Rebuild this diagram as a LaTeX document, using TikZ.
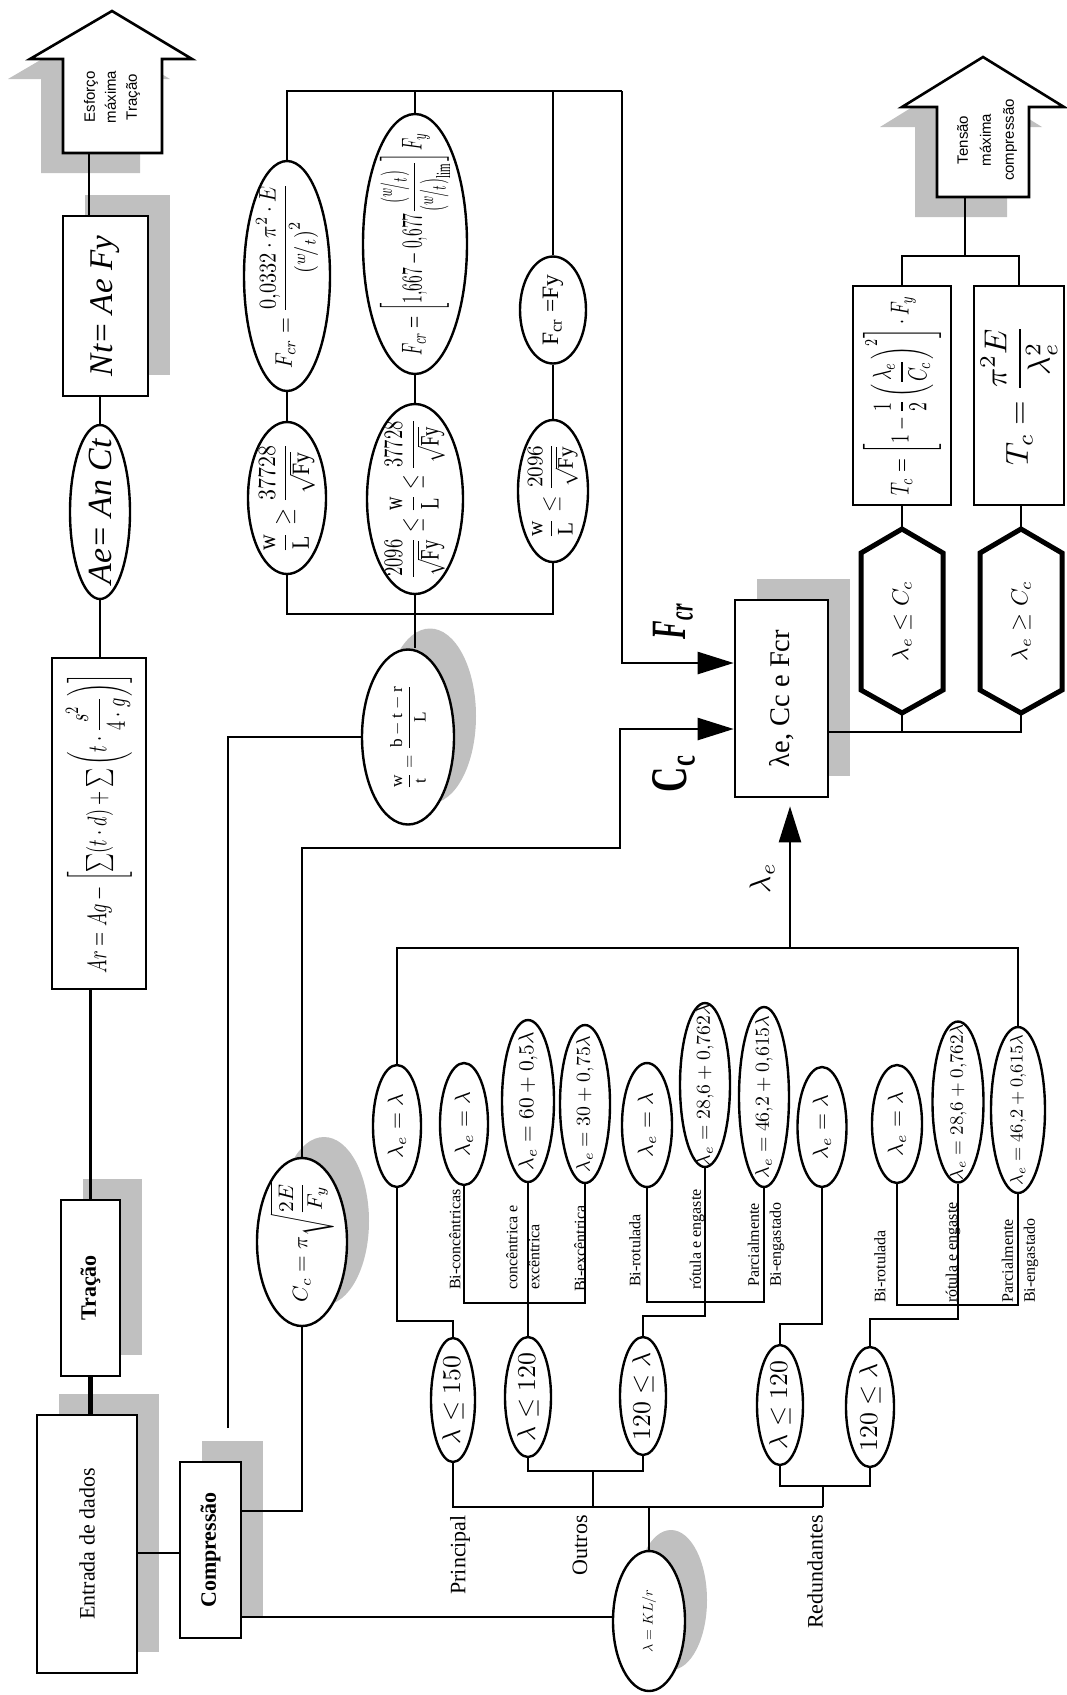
\documentclass[tikz,border=0pt]{standalone}
\usepackage{amsmath}
\usepackage{fontspec}
\setmainfont{Liberation Serif}
\newfontfamily\arialf{Liberation Sans}
\usetikzlibrary{shapes.geometric,arrows.meta,shadows,calc}
\definecolor{shgray}{RGB}{192,192,192}
\newcommand\fitto[2]{\resizebox{#1}{!}{#2}}
\newcommand\fith[3]{\resizebox*{#1}{#2}{#3}}
\begin{document}
\begin{tikzpicture}[x=1pt,y=-1pt,
  box/.style={draw, rectangle, line width=2.6pt, fill=white, inner sep=0pt},
  ell/.style={draw, ellipse, line width=2.4pt, fill=white, inner sep=0pt},
  tx/.style={rotate=90, inner sep=0pt, align=center},
  shd/.style={drop shadow={shadow xshift=22pt, shadow yshift=21pt, fill=shgray, opacity=1}},
  con/.style={line width=2.4pt},
  arr/.style={con, -{Triangle[length=36pt,width=22pt]}},
  hexs/.style={line width=5pt, fill=white, line join=miter},
  lbl/.style={rotate=90, inner sep=0pt, font=\fontsize{16}{22}\selectfont, align=left},
  big/.style={rotate=90, inner sep=0pt, font=\fontsize{22}{24}\selectfont},
  bigb/.style={rotate=90, inner sep=0pt, font=\fontsize{22}{24}\selectfont\bfseries}]
\useasboundingbox (0,0) rectangle (1067,1695);

% ---------- block arrows ----------
\fill[shgray, shift={(-22,20)}] (63,153) -- (63,59) -- (30,59) -- (112,11) -- (192,59) -- (162,59) -- (162,153) -- cycle;
\draw[line width=2.6pt, fill=white] (63,153) -- (63,59) -- (30,59) -- (112,11) -- (192,59) -- (162,59) -- (162,153) -- cycle;
\coordinate (a1b) at (89,153);
\fill[shgray, shift={(-22,20)}] (937,197) -- (937,107) -- (902,107) -- (983,57) -- (1064,107) -- (1029,107) -- (1029,197) -- cycle;
\draw[line width=2.6pt, fill=white] (937,197) -- (937,107) -- (902,107) -- (983,57) -- (1064,107) -- (1029,107) -- (1029,197) -- cycle;
\coordinate (a2b) at (965,197);

% ---------- left column ----------
\node[box, shd, minimum width=85, minimum height=180] (nt) at (105.5,306) {};
\node[ell, minimum width=60, minimum height=174] (ae) at (100,512) {};
\node[box, minimum width=94, minimum height=331] (ar) at (99,823.5) {};
\node[box, shd, minimum width=59, minimum height=176] (tr) at (90.5,1288) {};
\node[box, shd, minimum width=100, minimum height=258] (en) at (87,1544) {};
\node[box, shd, minimum width=61, minimum height=176] (co) at (210.5,1550) {};

% ---------- formula ellipses ----------
\node[ell, minimum width=86, minimum height=230] (eA1) at (287,276) {};
\node[ell, minimum width=78, minimum height=152] (eA2) at (287,498) {};
\node[ell, minimum width=104, minimum height=260] (eB1) at (415,244) {};
\node[ell, minimum width=96, minimum height=190] (eB2) at (415,499) {};
\node[ell, minimum width=66, minimum height=107] (eC1) at (553,310) {};
\node[ell, minimum width=70, minimum height=142] (eC2) at (553,491) {};
\node[ell, shd, minimum width=92, minimum height=175] (wt) at (408,737) {};
\node[ell, shd, minimum width=90, minimum height=168] (cc) at (302,1242) {};
\node[box, shd, minimum width=93, minimum height=197] (bx) at (781.5,698.5) {};
\node[box, minimum width=98, minimum height=219] (tc1) at (902,395.5) {};
\node[box, minimum width=90, minimum height=219] (tc2) at (1019,395.5) {};
\node[minimum width=82, minimum height=184, inner sep=0pt, outer sep=0pt] (hx1) at (902,621) {};
\node[minimum width=82, minimum height=184, inner sep=0pt, outer sep=0pt] (hx2) at (1021,621) {};
\draw[hexs] (hx1.north) -- ([yshift=-24pt]hx1.north east) -- ([yshift=23pt]hx1.south east) -- (hx1.south) -- ([yshift=23pt]hx1.south west) -- ([yshift=-24pt]hx1.north west) -- cycle;
\draw[hexs] (hx2.north) -- ([yshift=-24pt]hx2.north east) -- ([yshift=23pt]hx2.south east) -- (hx2.south) -- ([yshift=23pt]hx2.south west) -- ([yshift=-24pt]hx2.north west) -- cycle;

% ---------- lambda rows ----------
\node[ell, minimum width=48, minimum height=122] (u1) at (397,1126) {};
\node[ell, minimum width=48, minimum height=122] (u2) at (464,1124) {};
\node[ell, minimum width=52, minimum height=162] (u3) at (528,1101) {};
\node[ell, minimum width=50, minimum height=158] (u4) at (585,1104) {};
\node[ell, minimum width=50, minimum height=124] (u5) at (647,1125) {};
\node[ell, minimum width=50, minimum height=164] (u6) at (705,1085) {};
\node[ell, minimum width=50, minimum height=180] (u7) at (764,1097) {};
\node[ell, minimum width=49, minimum height=120] (u8) at (822,1127) {};
\node[ell, minimum width=50, minimum height=118] (u9) at (897,1124) {};
\node[ell, minimum width=51, minimum height=161] (u10) at (958,1102) {};
\node[ell, minimum width=54, minimum height=166] (u11) at (1018,1110) {};
\node[ell, minimum width=44, minimum height=124] (c1) at (453,1400) {};
\node[ell, minimum width=46, minimum height=120] (c2) at (528,1397) {};
\node[ell, minimum width=46, minimum height=118] (c3) at (643,1396) {};
\node[ell, minimum width=46, minimum height=120] (c4) at (780,1405) {};
\node[ell, minimum width=48, minimum height=120] (c5) at (870,1407) {};
\node[ell, shd, minimum width=72, minimum height=140] (kl) at (649,1621) {};

% ---------- connectors ----------
\draw[con] (a1b) -- (a1b |- nt.north);
\draw[con] (ae.north) -- (ae.north |- nt.south);
\draw[con] (ae.south) -- (ae.south |- ar.north);
\draw[con] (tr.north) -- (tr.north |- ar.south);
\draw[line width=5pt] (tr.south) -- (tr.south |- en.north);
\draw[con] ([yshift=-9pt]en.east) -- ([yshift=-9pt]en.east -| co.west);
\draw[con] ([yshift=39pt]co.east) -| (cc.south);
\draw[con] ([yshift=-67pt]co.east) -- ([yshift=-67pt]co.east -| kl.west);
\coordinate (cg) at (228,1428);
\draw[con] (cg) |- (wt.west);

\coordinate (ft) at (622,91);
\draw[con] (eA1.north) |- (ft);
\draw[con] (eB1.north) -- (eB1.north |- ft);
\draw[con] (eC1.north) -- (eC1.north |- ft);
\draw[arr] (ft) |- ([yshift=35.5pt]bx.west);
\draw[con] (eA1.south) -- (eA2.north);
\draw[con] (eB1.south) -- (eB2.north);
\draw[con] (eC1.south) -- (eC2.north);
\coordinate (hj) at (415,614);
\draw[con] (eA2.south) |- (hj) -| (eC2.south);
\draw[con] (eB2.south) -- (eB2.south |- wt.north);

\coordinate (cm) at (620,848);
\draw[arr] (cc.north) |- (cm) |- ([yshift=-30.5pt]bx.west);

\coordinate (lh) at (790,948);
\draw[con] (u1.north) |- (lh) -| (u11.north);
\draw[arr, shorten >=8pt] (lh) -- (lh |- bx.south);

\coordinate (bo) at ([yshift=-33.5pt]bx.east);
\draw[con] (bo) -| (hx2.south);
\draw[con] (hx1.south) -- (hx1.south |- bo);
\draw[con] (hx1.north) -- (tc1.south);
\draw[con] (hx2.north) -- (hx2.north |- tc2.south);
\coordinate (jn) at (965,256);
\draw[con] (tc1.north) |- (jn) -| (tc2.north);
\draw[con] (jn) -- (a2b);

\draw[con] (u1.south) |- ($(c1.north)+(0,-16)$) -- (c1.north);
\coordinate (ob1) at (585,1303);
\draw[con] (u2.south) |- (ob1) -- (u4.south);
\draw[con] (u3.south) -- (c2.north);
\coordinate (ob2) at (764,1302);
\draw[con] (u5.south) |- (ob2) -- (u7.south);
\draw[con] (u6.south) |- ($(c3.north)+(0,-20)$) -- (c3.north);
\draw[con] (u8.south) |- ($(c4.north)+(0,-20)$) -- (c4.north);
\coordinate (rb1) at (1018,1305);
\draw[con] (u9.south) |- (rb1) -- (u11.south);
\draw[con] (u10.south) |- ($(c5.north)+(0,-27)$) -- (c5.north);

\coordinate (hm) at (823,1507);
\draw[con] (c1.south) |- (hm);
\draw[con] (kl.north) -- (kl.north |- hm);
\coordinate (ob) at (593,1471);
\draw[con] (c2.south) |- (ob) -| (c3.south);
\draw[con] (ob) -- (ob |- hm);
\coordinate (rb) at (823,1486);
\draw[con] (c4.south) |- (rb) -| (c5.south);
\draw[con] (rb) -- (hm);

% ---------- texts ----------
\node[tx, font=\arialf\fontsize{15}{21}\selectfont] (a1t) at (112,97) {Esforço\\máxima\\Tração};
\node[tx, font=\arialf\fontsize{15}{23}\selectfont] (a2t) at (987,140) {Tensão\\máxima\\compressão};
\node[tx] (ntT) at (nt) {\fitto{140pt}{\itshape Nt= Ae Fy}};
\node[tx] (aeT) at (ae) {\fitto{145pt}{\itshape Ae= An Ct}};
\node[tx] (arT) at (ar) {\fith{300pt}{66pt}{$Ar= Ag-\left[\sum(t\cdot d)+\sum\left(t\cdot\dfrac{s^{2}}{4\cdot g}\right)\right]$}};
\node[bigb] (trT) at (tr) {Tração};
\node[big] (enT) at (en) {Entrada de dados};
\node[bigb] (coT) at (co) {Compressão};

\node[tx] (eA1T) at (eA1) {\fith{185pt}{62pt}{$F_{cr}=\dfrac{0{,}0332\cdot\pi^{2}\cdot E}{\left({}^{w}\!/_{t}\right)^{2}}$}};
\node[tx] (eA2T) at (eA2) {\fith{110pt}{56pt}{$\dfrac{\mathrm{w}}{\mathrm{L}}\geq\dfrac{37728}{\sqrt{\mathrm{Fy}}}$}};
\node[tx] (eB1T) at (eB1) {\fith{222pt}{70pt}{$F_{cr}=\left[1{,}667-0{,}677\dfrac{\left({}^{w}\!/_{t}\right)}{\left({}^{w}\!/_{t}\right)_{\lim}}\right]F_{y}$}};
\node[tx] (eB2T) at (eB2) {\fith{160pt}{60pt}{$\dfrac{2096}{\sqrt{\mathrm{Fy}}}\leq\dfrac{\mathrm{w}}{\mathrm{L}}\leq\dfrac{37728}{\sqrt{\mathrm{Fy}}}$}};
\node[tx] (eC1T) at (eC1) {\fitto{71pt}{F\textsubscript{cr} =Fy}};
\node[tx] (eC2T) at (eC2) {\fith{96pt}{50pt}{$\dfrac{\mathrm{w}}{\mathrm{L}}\leq\dfrac{2096}{\sqrt{\mathrm{Fy}}}$}};
\node[tx] (wtT) at (wt) {\fitto{105pt}{$\dfrac{\mathrm{w}}{\mathrm{t}}=\dfrac{\mathrm{b-t-r}}{\mathrm{L}}$}};
\node[tx] (ccT) at (cc) {\fith{120pt}{64pt}{$C_{c}=\pi\sqrt{\dfrac{2E}{F_y}}$}};
\node[tx] (klT) at (kl) {\fitto{63pt}{$\lambda = KL/r$}};
\node[tx] (bxT) at (bx) {\fitto{137pt}{λe, Cc e Fcr}};
\node[tx] (tc1T) at (tc1) {\fith{200pt}{78pt}{$T_c=\left[1-\dfrac{1}{2}\left(\dfrac{\lambda_e}{C_c}\right)^{2}\right]\cdot F_y$}};
\node[tx] (tc2T) at (tc2) {\fitto{140pt}{$T_c=\dfrac{\pi^{2}E}{\lambda_e^{2}}$}};
\node[tx] (hx1T) at (hx1) {\fitto{80pt}{$\lambda_e\leq C_c$}};
\node[tx] (hx2T) at (hx2) {\fitto{80pt}{$\lambda_e\geq C_c$}};

\node[tx] (fcrL) at (673,621) {\resizebox*{36pt}{40pt}{\bfseries\itshape F\textsubscript{cr}}};
\node[tx] (ccL) at (674,773) {\resizebox*{38pt}{42pt}{\bfseries C\textsubscript{c}}};
\node[tx] (leL) at (762,878) {\fitto{30pt}{$\lambda_e$}};

\node[tx] (u1T) at (u1) {\fitto{64pt}{$\lambda_e=\lambda$}};
\node[tx] (u2T) at (u2) {\fitto{64pt}{$\lambda_e=\lambda$}};
\node[tx] (u3T) at (u3) {\fitto{138pt}{$\lambda_e=60+0{,}5\lambda$}};
\node[tx] (u4T) at (u4) {\fitto{137pt}{$\lambda_e=30+0{,}75\lambda$}};
\node[tx] (u5T) at (u5) {\fitto{64pt}{$\lambda_e=\lambda$}};
\node[tx] (u6T) at (u6) {\fitto{162pt}{$\lambda_e=28{,}6+0{,}762\lambda$}};
\node[tx] (u7T) at (u7) {\fitto{163pt}{$\lambda_e=46{,}2+0{,}615\lambda$}};
\node[tx] (u8T) at (u8) {\fitto{64pt}{$\lambda_e=\lambda$}};
\node[tx] (u9T) at (u9) {\fitto{64pt}{$\lambda_e=\lambda$}};
\node[tx] (u10T) at (u10) {\fitto{156pt}{$\lambda_e=28{,}6+0{,}762\lambda$}};
\node[tx] (u11T) at (u11) {\fitto{150pt}{$\lambda_e=46{,}2+0{,}615\lambda$}};
\node[tx] (c1T) at (c1) {\fitto{88pt}{$\lambda\leq150$}};
\node[tx] (c2T) at (c2) {\fitto{88pt}{$\lambda\leq120$}};
\node[tx] (c3T) at (c3) {\fitto{88pt}{$120\leq\lambda$}};
\node[tx] (c4T) at (c4) {\fitto{88pt}{$\lambda\leq120$}};
\node[tx] (c5T) at (c5) {\fitto{88pt}{$120\leq\lambda$}};

\node[big, anchor=east] (pT) at (460,1515) {Principal};
\node[big, anchor=east] (oT) at (580,1515) {Outros};
\node[big, anchor=east] (rT) at (815,1515) {Redundantes};

\node[lbl, anchor=west] (l1) at (455,1290) {Bi-concêntricas};
\node[lbl, anchor=west] (l2) at (523,1290) {concêntrica e\\excêntrica};
\node[lbl, anchor=west] (l3) at (580,1292) {Bi-excêntrica};
\node[lbl, anchor=west] (l4) at (635,1287) {Bi-rotulada};
\node[lbl, anchor=west] (l5) at (697,1290) {rótula e engaste};
\node[lbl, anchor=west] (l6) at (766,1287) {Parcialmente\\Bi-engastado};
\node[lbl, anchor=west] (l7) at (880,1303) {Bi-rotulada};
\node[lbl, anchor=west] (l8) at (953,1303) {rótula e engaste};
\node[lbl, anchor=west] (l9) at (1020,1303) {Parcialmente\\Bi-engastado};
\end{tikzpicture}
\end{document}
